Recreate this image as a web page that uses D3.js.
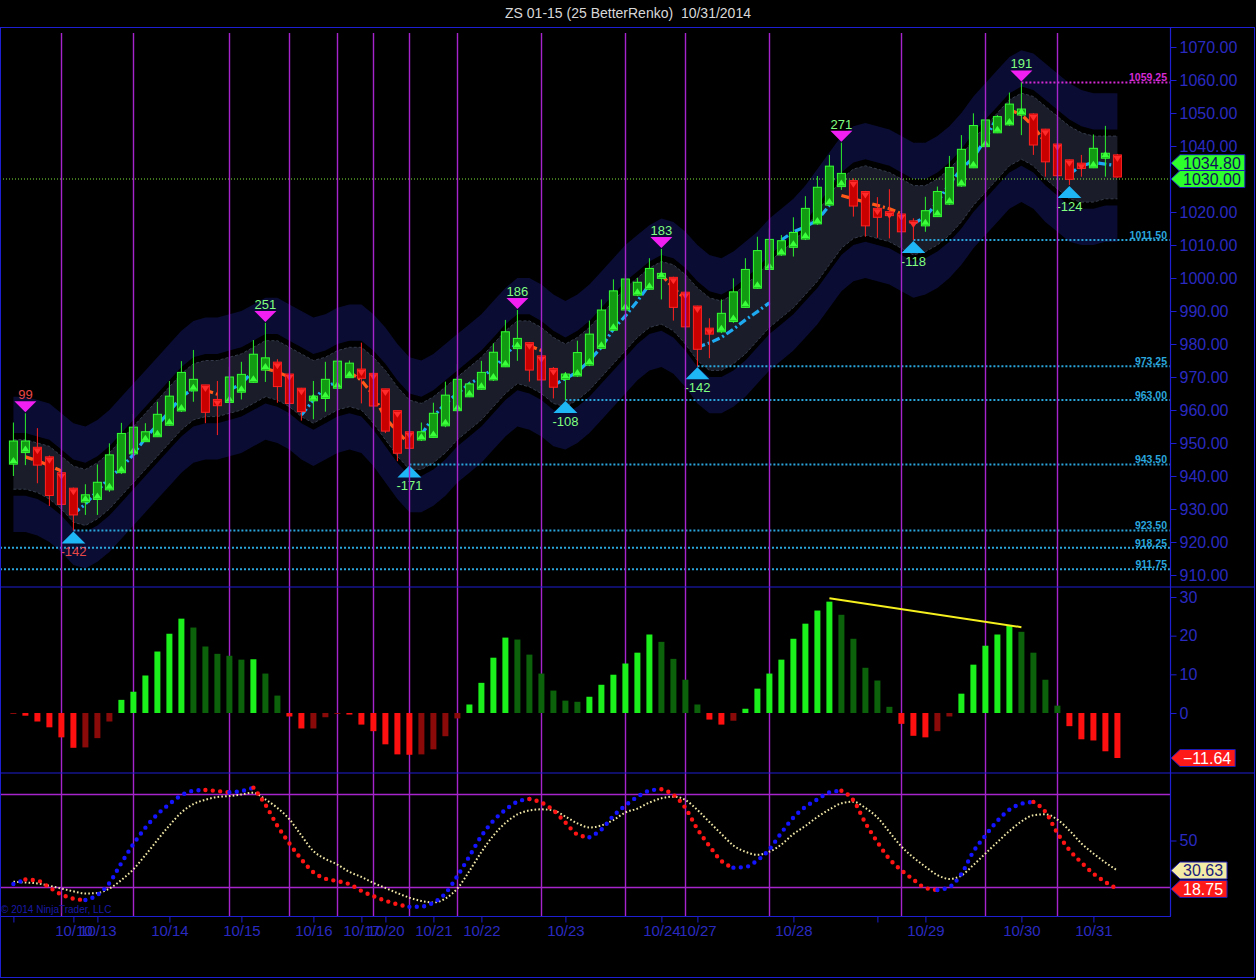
<!DOCTYPE html>
<html>
<head>
<meta charset="utf-8">
<script src="https://cdn.jsdelivr.net/npm/d3@7"></script>
<style>
  body { margin: 0; background: #000; }
  svg { display: block; }
</style>
</head>
<body>
<svg id="chart"></svg>
<script>
// ---- data ----
const barOpen = [
  943.6, 947.1, 948.7, 945.8, 941.0, 936.3, 932.1, 932.9, 935.8, 941.0,
  946.7, 950.4, 951.9, 955.4, 959.7, 965.8, 967.6, 963.2, 962.3, 965.4,
  968.4, 972.1, 974.5, 970.9, 966.6, 962.8, 963.5, 966.6, 969.8, 972.4,
  971.1, 966.4, 959.8, 953.4, 950.9, 951.7, 955.2, 959.8, 964.0, 966.3,
  969.1, 973.1, 978.6, 980.4, 976.4, 972.6, 969.3, 970.3, 973.6, 978.7,
  984.2, 990.3, 994.8, 996.6, 999.9, 1000.2, 995.7, 991.5, 984.8, 983.7,
  986.8, 991.1, 996.9, 1002.6, 1007.0, 1009.3, 1011.8, 1016.4, 1022.1, 1027.7,
  1029.5, 1026.2, 1021.1, 1020.1, 1019.4, 1017.3, 1015.8, 1018.6, 1022.4, 1027.9,
  1033.4, 1039.8, 1044.0, 1046.4, 1049.4, 1049.7, 1045.1, 1040.6, 1035.8, 1034.8,
  1033.4, 1036.3, 1037.3
];
const barHigh = [
  956.2, 959.0, 954.5, 946.2, 941.5, 936.5, 937.5, 943.5, 949.9, 956.1,
  958.8, 956.0, 962.5, 968.8, 974.8, 978.2, 967.6, 968.8, 973.1, 974.6,
  981.2, 986.4, 975.4, 970.9, 966.7, 968.8, 974.6, 975.6, 975.0, 980.4,
  971.5, 966.4, 959.8, 953.5, 956.2, 962.2, 968.6, 973.9, 968.5, 974.9,
  980.2, 987.3, 990.3, 980.6, 976.4, 973.0, 971.5, 981.0, 987.1, 993.5,
  999.6, 1001.2, 1000.0, 1006.0, 1008.8, 1000.4, 995.9, 991.6, 987.8, 993.5,
  999.9, 1006.0, 1012.5, 1015.1, 1013.0, 1018.4, 1024.8, 1030.9, 1037.3, 1041.0,
  1030.2, 1026.4, 1024.5, 1026.9, 1019.6, 1018.1, 1024.6, 1027.7, 1037.0, 1043.3,
  1049.9, 1050.6, 1049.4, 1056.2, 1059.25, 1049.9, 1045.2, 1040.7, 1035.9, 1037.3,
  1043.5, 1046.1, 1037.6
];
const barLow = [
  940.0, 943.3, 937.8, 930.9, 931.0, 923.5, 928.2, 928.2, 935.2, 940.6,
  946.4, 950.3, 951.8, 955.2, 959.4, 962.5, 956.0, 952.4, 962.1, 963.2,
  968.2, 968.5, 962.2, 958.2, 956.8, 957.2, 959.5, 966.4, 969.7, 962.0,
  960.0, 953.0, 944.5, 943.5, 950.6, 951.5, 954.8, 959.4, 963.9, 966.1,
  968.8, 973.0, 974.9, 968.6, 967.3, 963.5, 963.0, 970.0, 973.3, 978.5,
  983.9, 990.0, 994.5, 996.4, 993.5, 987.1, 984.2, 973.25, 975.7, 983.3,
  986.4, 990.9, 996.7, 1002.4, 1006.7, 1006.5, 1011.5, 1016.1, 1021.8, 1026.7,
  1018.6, 1012.5, 1012.2, 1012.0, 1013.0, 1011.5, 1014.0, 1018.5, 1022.1, 1027.6,
  1033.3, 1039.7, 1043.9, 1046.1, 1043.3, 1037.3, 1030.7, 1030.3, 1028.2, 1030.7,
  1033.3, 1030.7, 1030.4
];
const barClose = [
  950.6, 950.6, 943.3, 934.1, 931.4, 928.2, 934.3, 938.1, 946.4, 952.9,
  954.8, 953.4, 958.7, 964.2, 971.4, 969.3, 959.3, 961.3, 970.0, 970.8,
  976.9, 975.8, 967.1, 962.0, 959.5, 964.2, 969.3, 974.8, 974.2, 969.6,
  961.2, 953.6, 946.9, 948.4, 953.4, 959.0, 964.5, 969.3, 967.9, 971.4,
  977.5, 983.7, 981.7, 972.1, 969.1, 966.9, 970.9, 977.4, 983.0, 990.3,
  996.1, 999.7, 998.7, 1002.9, 1001.4, 991.1, 985.2, 978.4, 983.0, 989.3,
  995.8, 1002.6, 1008.3, 1011.7, 1011.3, 1013.8, 1021.1, 1027.5, 1033.9, 1031.7,
  1021.8, 1015.8, 1018.4, 1018.9, 1014.0, 1016.7, 1020.4, 1026.2, 1033.5, 1039.0,
  1046.2, 1047.9, 1048.9, 1052.7, 1051.2, 1040.3, 1035.2, 1031.0, 1029.9, 1033.2,
  1039.3, 1037.8, 1030.6
];

// trend line (null = no line), direction 1 = up (blue), -1 = down (orange)
const trendVal = [
  944.8, 945.8, 944.6, 943.2, 941.5, 928.5, 931.5, 935.5, 939.5, 942.5,
  946.5, 951.5, 955.5, 959.5, 964.0, 966.5, 966.0, 964.8, 966.0, 968.0,
  971.8, 972.6, 971.5, 970.0, 958.5, 963.0, 967.0, 968.5, 971.5, 969.0,
  964.5, 957.5, 953.5, 949.5, 952.5, 958.0, 962.0, 965.0, 968.0, 970.0,
  972.5, 976.5, 980.5, 979.5, 978.0, 967.5, 969.5, 971.5, 975.0, 979.0,
  984.5, 988.5, 993.0, 998.0, 1001.0, 997.0, 993.5, 979.0, 980.3, 982.0,
  984.5, 987.3, 989.8, 992.5, 1011.5, 1014.0, 1015.5, 1017.5, 1022.0, 1025.0,
  1024.0, 1023.0, 1022.0, 1021.0, 1019.5, 1016.5, 1018.5, 1023.0, 1028.5, 1033.0,
  1036.5, 1042.0, 1049.0, 1051.0, 1049.5, 1046.0, 1041.0, null, 1031.5, 1034.0,
  1035.0, 1034.5, 1034.0
];
const trendDir = [
  1, -1, -1, -1, -1, 1, 1, 1, 1, 1,
  1, 1, 1, 1, 1, 1, -1, -1, 1, 1,
  1, -1, -1, -1, 1, 1, 1, 1, -1, -1,
  -1, -1, -1, -1, 1, 1, 1, 1, 1, 1,
  1, 1, 1, -1, -1, 1, 1, 1, 1, 1,
  1, 1, 1, 1, -1, -1, -1, 1, 1, 1,
  1, 1, 1, 1, 1, 1, 1, 1, 1, -1,
  -1, -1, -1, -1, -1, 1, 1, 1, 1, 1,
  1, 1, 1, -1, -1, -1, -1, 0, 1, 1,
  1, 1, 1
];

// channel (inner band edges)
const bandHi = [
  951, 951, 950, 949, 946, 943, 942, 944, 947, 951,
  955, 959, 963, 967, 971, 974, 975, 975, 976, 977,
  979, 981, 981, 979, 977, 975, 976, 978, 979, 979,
  976, 972, 967, 963, 962, 964, 967, 970, 973, 976,
  980, 984, 987, 987, 985, 982, 980, 982, 985, 989,
  993, 997, 1000, 1003, 1005, 1004, 1001, 997, 994, 993,
  995, 998, 1001, 1005, 1008, 1011, 1015, 1020, 1025, 1030,
  1033, 1034, 1033, 1032, 1030, 1028, 1028, 1030, 1033, 1037,
  1042, 1046, 1050, 1054, 1056, 1055, 1052, 1049, 1046, 1044,
  1043, 1043, 1043
];
const bandLo = [
  936, 936, 935, 933, 930, 926, 925, 927, 930, 934,
  938, 942, 946, 950, 954, 957, 958, 958, 959, 960,
  962, 964, 963, 961, 958, 956, 958, 960, 961, 960,
  956, 951, 946, 942, 942, 944, 947, 951, 954, 957,
  961, 965, 968, 967, 965, 962, 961, 963, 966, 970,
  974, 978, 982, 985, 986, 984, 980, 975, 972, 972,
  974, 977, 981, 985, 988, 991, 995, 999, 1004, 1009,
  1012, 1013, 1012, 1011, 1009, 1007, 1008, 1010, 1013, 1017,
  1022, 1026, 1030, 1034, 1036, 1034, 1030, 1027, 1024, 1023,
  1023, 1024, 1024
];

const swingHighIdx = [1, 21, 42, 54, 69, 84];
const swingHighText = ["99", "251", "186", "183", "271", "191"];
const swingLowIdx = [5, 33, 46, 57, 75, 88];
const swingLowText = ["-142", "-171", "-108", "-142", "-118", "-124"];

const levelPrice = [1059.25, 1011.50, 973.25, 963.00, 943.50, 923.50, 918.25, 911.75];
const levelFrom = [84, 75, 57, 46, 33, 5, -1, -1];
const levelKind = ["high", "low", "low", "low", "low", "low", "low", "low"];

const refPrice = 1030.00;
const lastPrice = 1034.80;

const histVal = [
  -0.2, -0.7, -2.2, -3.7, -6.3, -9.0, -8.9, -6.5, -2.2, 3.4,
  5.5, 9.7, 15.9, 20.5, 24.4, 22.1, 17.2, 15.3, 14.8, 13.8,
  13.9, 10.2, 4.5, -0.9, -4.0, -4.0, -1.1, -0.1, -0.4, -3.0,
  -4.7, -8.1, -10.7, -10.8, -10.7, -9.4, -6.0, -1.4, 2.2, 7.8,
  14.3, 19.5, 19.0, 15.1, 10.2, 5.8, 3.2, 2.9, 4.2, 7.3,
  9.9, 12.8, 15.6, 20.3, 18.4, 14.0, 8.6, 2.2, -1.7, -3.0,
  -2.0, 1.1, 6.3, 10.2, 13.8, 19.2, 23.1, 26.5, 28.8, 25.4,
  19.2, 11.7, 8.4, 1.6, -2.8, -5.9, -6.3, -4.7, -0.9, 5.0,
  12.5, 17.4, 20.3, 22.6, 21.0, 15.6, 8.6, 1.9, -3.4, -6.8,
  -7.1, -9.9, -11.64
];
const divIdx = [68, 84];
const divVal = [29.7, 22.2];

const stochK = [
  21.9, 24.8, 24.2, 19.7, 15.2, 12.5, 11.6, 14.8, 22.6, 35.5,
  47.7, 58.3, 66.9, 73.5, 79.2, 82.1, 82.6, 81.9, 81.1, 81.9,
  84.1, 73.1, 59.5, 48.1, 37.9, 29.5, 25.4, 23.8, 21.8, 17.5,
  14.1, 11.2, 8.8, 7.2, 7.4, 9.9, 15.9, 27.1, 39.8, 52.9,
  62.8, 69.8, 75.0, 76.8, 74.5, 69.5, 61.6, 53.9, 52.1, 57.1,
  65.9, 72.6, 78.2, 82.1, 83.1, 79.5, 71.0, 57.4, 46.5, 36.8,
  32.5, 32.9, 37.2, 44.3, 55.0, 64.8, 71.7, 76.5, 81.0, 82.1,
  75.9, 61.3, 49.0, 38.1, 30.8, 24.8, 19.4, 18.1, 20.0, 28.4,
  42.9, 53.2, 62.7, 69.9, 73.7, 74.9, 68.5, 54.8, 43.9, 35.8,
  28.7, 23.2, 18.75
];
const stochD = [
  23.4, 22.9, 22.3, 20.8, 19.0, 17.2, 15.8, 16.1, 19.0, 24.5,
  31.4, 40.6, 50.3, 59.7, 68.1, 73.5, 76.3, 78.1, 78.7, 79.7,
  80.8, 76.5, 71.0, 63.7, 53.2, 43.2, 38.1, 34.5, 29.7, 26.5,
  22.6, 19.4, 16.1, 13.1, 11.0, 10.0, 12.6, 19.0, 30.3, 42.6,
  53.2, 61.3, 66.8, 69.4, 70.1, 69.4, 65.5, 61.1, 58.4, 59.7,
  63.2, 68.1, 70.6, 74.5, 77.2, 78.3, 76.1, 69.7, 61.9, 54.2,
  46.8, 42.7, 40.8, 42.8, 47.4, 54.2, 59.4, 65.2, 70.0, 74.0,
  75.0, 71.0, 64.8, 55.5, 46.1, 39.0, 33.1, 27.7, 25.2, 27.4,
  34.2, 41.6, 49.0, 56.1, 62.3, 66.3, 66.9, 63.5, 56.5, 48.1,
  41.6, 35.8, 30.63
];
const stochLevels = [80, 20];

const sessionIdx = [4, 10, 18, 23, 27, 30, 33, 37, 44, 51, 56, 63, 74, 81, 87];
const dateTickIdx = [0, 5, 7, 13, 19, 25, 29, 31, 35, 39, 46, 54, 57, 65, 72, 76, 84, 90];
const dateTickText = ["", "10/10", "10/13", "10/14", "10/15", "10/16", "10/17", "10/20", "10/21",
  "10/22", "10/23", "10/24", "10/27", "10/28", "", "10/29", "10/30", "10/31"];

// tick labels (1030.00 and -10 sit under the value flags and are not shown)
const priceTicks = [910, 920, 930, 940, 950, 960, 970, 980, 990, 1000, 1010, 1020, 1040, 1050, 1060, 1070];
const histTicks = [0, 10, 20, 30];
const stochTicks = [50];

// ---- layout ----
const W = 1256, H = 980;
const font = "'Liberation Sans', Arial, sans-serif";
const axisBlue = "#1e1ed2";
const textBlue = "#2a2ac0";
const sessionColor = "#a624cc";
const n = barOpen.length;
const idx = d3.range(n);

const svg = d3.select("#chart")
    .attr("width", W)
    .attr("height", H)
    .style("background", "#000");

const x = d3.scaleLinear().domain([0, n - 1]).range([13.4, 1117.4]);
const yP = d3.scaleLinear().domain([910, 1070]).range([575, 47]);
const yH = d3.scaleLinear().domain([0, 30]).range([713, 597]);
const yS = d3.scaleLinear().domain([20, 80]).range([887, 794]);

const defs = svg.append("defs");
defs.append("clipPath").attr("id", "clipP").append("rect")
    .attr("x", 1).attr("y", 28).attr("width", 1169).attr("height", 558);
defs.append("clipPath").attr("id", "clipH").append("rect")
    .attr("x", 1).attr("y", 588).attr("width", 1169).attr("height", 184);
defs.append("clipPath").attr("id", "clipS").append("rect")
    .attr("x", 1).attr("y", 774).attr("width", 1169).attr("height", 141);

// title
svg.append("text")
    .attr("x", 628).attr("y", 18)
    .attr("text-anchor", "middle")
    .style("white-space", "pre")
    .attr("fill", "#d8d8d8")
    .attr("font-family", font)
    .attr("font-size", 14)
    .text("ZS 01-15 (25 BetterRenko)  10/31/2014");

// ---- price pane ----
const price = svg.append("g").attr("clip-path", "url(#clipP)");

price.append("path")
    .attr("d", d3.area().x(i => x(i)).y0(i => yP(bandHi[i] + 2)).y1(i => yP(bandHi[i] + 13))(idx))
    .attr("fill", "#0a0c33");
price.append("path")
    .attr("d", d3.area().x(i => x(i)).y0(i => yP(bandLo[i] - 2)).y1(i => yP(bandLo[i] - 13))(idx))
    .attr("fill", "#0a0c33");
price.append("path")
    .attr("d", d3.area().x(i => x(i)).y0(i => yP(bandHi[i])).y1(i => yP(bandLo[i]))(idx))
    .attr("fill", "#1a1d29");
[bandHi, bandLo].forEach(arr => {
    price.append("path")
        .attr("d", d3.line().x(i => x(i)).y(i => yP(arr[i]))(idx))
        .attr("fill", "none")
        .attr("stroke", "#343a4a")
        .attr("stroke-dasharray", "3 2");
});

// support / resistance levels
levelPrice.forEach((p, k) => {
    const col = levelKind[k] === "high" ? "#d42ad4" : "#2aa6dc";
    const x0 = levelFrom[k] < 0 ? 0 : x(levelFrom[k]);
    price.append("line")
        .attr("x1", x0).attr("x2", 1170)
        .attr("y1", yP(p)).attr("y2", yP(p))
        .attr("stroke", col).attr("stroke-width", 2)
        .attr("stroke-dasharray", "2 2");
});
price.append("line")
    .attr("x1", 0).attr("x2", 1170)
    .attr("y1", yP(refPrice)).attr("y2", yP(refPrice))
    .attr("stroke", "#7fe83a").attr("stroke-dasharray", "1 2");

// session separators (all panes)
sessionIdx.forEach(i => {
    const sx = Math.round(x(i)) + 0.5;
    svg.append("line")
        .attr("x1", sx).attr("x2", sx)
        .attr("y1", 33).attr("y2", 916)
        .attr("stroke", sessionColor).attr("stroke-width", 1.4);
});

// trend line in runs of same direction
let runs = [], cur = null;
for (let i = 1; i < n; i++) {
    const ok = trendVal[i - 1] != null && trendVal[i] != null &&
        trendDir[i - 1] === trendDir[i] && Math.abs(trendVal[i] - trendVal[i - 1]) < 8;
    if (!ok) { cur = null; continue; }
    if (!cur) { cur = { dir: trendDir[i], pts: [i - 1] }; runs.push(cur); }
    cur.pts.push(i);
}
const trendLine = d3.line().x(i => x(i)).y(i => yP(trendVal[i]));
runs.forEach(r => {
    price.append("path")
        .attr("d", trendLine(r.pts))
        .attr("fill", "none")
        .attr("stroke", r.dir > 0 ? "#1eaaf2" : "#ff5a1a")
        .attr("stroke-width", 3.2)
        .attr("stroke-dasharray", "8 3 2 3");
});

// candles
const candles = price.selectAll("g.candle").data(idx).join("g").attr("class", "candle");
candles.append("line")
    .attr("x1", i => x(i)).attr("x2", i => x(i))
    .attr("y1", i => yP(barHigh[i])).attr("y2", i => yP(barLow[i]))
    .attr("stroke", i => barClose[i] >= barOpen[i] ? "#2cf02c" : "#ff2020");
candles.append("rect")
    .attr("x", i => x(i) - 4)
    .attr("width", 8)
    .attr("y", i => yP(Math.max(barOpen[i], barClose[i])))
    .attr("height", i => Math.max(1, Math.abs(yP(barOpen[i]) - yP(barClose[i]))))
    .attr("fill", i => barClose[i] >= barOpen[i] ? "#139a13" : "#c80000")
    .attr("stroke", i => barClose[i] >= barOpen[i] ? "#33ff33" : "#ff2222");
// direction markers at the open
candles.append("path")
    .attr("d", i => {
        const cx = x(i), cy = yP(barOpen[i]);
        return barClose[i] >= barOpen[i]
            ? `M${cx - 4},${cy - 1}L${cx + 4},${cy - 1}L${cx},${cy - 7}Z`
            : `M${cx - 4},${cy + 1}L${cx + 4},${cy + 1}L${cx},${cy + 7}Z`;
    })
    .attr("fill", i => barClose[i] >= barOpen[i] ? "#3cff3c" : "#ff2a2a");

// swing highs / lows
swingHighIdx.forEach((i, k) => {
    const cx = x(i), tip = yP(barHigh[i]) - 1;
    price.append("path")
        .attr("d", `M${cx - 11},${tip - 11}L${cx + 11},${tip - 11}L${cx},${tip}Z`)
        .attr("fill", "#f21ff2");
    price.append("text")
        .attr("x", cx).attr("y", tip - 13)
        .attr("text-anchor", "middle")
        .attr("fill", k === 0 ? "#e84848" : "#80ff80")
        .attr("font-family", font).attr("font-size", 13)
        .text(swingHighText[k]);
});
swingLowIdx.forEach((i, k) => {
    const cx = x(i), tip = yP(barLow[i]) + 1;
    price.append("path")
        .attr("d", `M${cx},${tip}L${cx + 12},${tip + 12}L${cx - 12},${tip + 12}Z`)
        .attr("fill", "#1eb6f5");
    price.append("text")
        .attr("x", cx).attr("y", tip + 25)
        .attr("text-anchor", "middle")
        .attr("fill", k === 0 ? "#e84848" : "#80ff80")
        .attr("font-family", font).attr("font-size", 13)
        .text(swingLowText[k]);
});

levelPrice.forEach((p, k) => {
    price.append("text")
        .attr("x", 1167).attr("y", yP(p) - 1)
        .attr("text-anchor", "end")
        .attr("fill", levelKind[k] === "high" ? "#d42ad4" : "#2aa6dc")
        .attr("font-family", font).attr("font-size", 10.5).attr("font-weight", "bold")
        .text(d3.format(".2f")(p));
});

// ---- histogram pane ----
const hist = svg.append("g").attr("clip-path", "url(#clipH)");
function histColor(i) {
    const v = histVal[i], prev = i ? histVal[i - 1] : v;
    if (v >= 0) return v > prev ? "#1cf01c" : "#0b620b";
    return v < prev ? "#ff1010" : "#8a0a0a";
}
hist.selectAll("rect").data(idx).join("rect")
    .attr("x", i => x(i) - 3)
    .attr("width", 6)
    .attr("y", i => Math.min(yH(histVal[i]), yH(0)))
    .attr("height", i => Math.max(1, Math.abs(yH(histVal[i]) - yH(0))))
    .attr("fill", histColor);
hist.append("line")
    .attr("x1", x(divIdx[0])).attr("y1", yH(divVal[0]))
    .attr("x2", x(divIdx[1])).attr("y2", yH(divVal[1]))
    .attr("stroke", "#f5f01e").attr("stroke-width", 2);

// ---- stochastic pane ----
const stoch = svg.append("g").attr("clip-path", "url(#clipS)");
stochLevels.forEach(v => {
    stoch.append("line")
        .attr("x1", 0).attr("x2", 1170)
        .attr("y1", Math.round(yS(v)) + 0.5).attr("y2", Math.round(yS(v)) + 0.5)
        .attr("stroke", sessionColor).attr("stroke-width", 1.4);
});
stoch.append("path")
    .attr("d", d3.line().x(i => x(i)).y(i => yS(stochD[i])).curve(d3.curveMonotoneX)(idx))
    .attr("fill", "none")
    .attr("stroke", "#f0e6a6")
    .attr("stroke-width", 2)
    .attr("stroke-dasharray", "1.6 2.2");
let kRuns = [], kr = null;
for (let i = 1; i < n; i++) {
    const up = stochK[i] >= stochK[i - 1];
    if (!kr || kr.up !== up) { kr = { up, pts: [i - 1] }; kRuns.push(kr); }
    kr.pts.push(i);
}
const kLine = d3.line().x(i => x(i)).y(i => yS(stochK[i])).curve(d3.curveMonotoneX);
kRuns.forEach(r => {
    stoch.append("path")
        .attr("d", kLine(r.pts))
        .attr("fill", "none")
        .attr("stroke", r.up ? "#1414ff" : "#ff1414")
        .attr("stroke-width", 4.4)
        .attr("stroke-linecap", "round")
        .attr("stroke-dasharray", "0 7.4");
});
svg.append("text")
    .attr("x", 1).attr("y", 913)
    .attr("fill", "#1a1aa8")
    .attr("font-family", font).attr("font-size", 10)
    .text("\u00a9 2014 NinjaTrader, LLC");

// ---- frame and axes ----
svg.append("rect")
    .attr("x", 0.5).attr("y", 27.5).attr("width", 1254).attr("height", 950)
    .attr("fill", "none").attr("stroke", axisBlue);
[587, 773].forEach(yy => {
    svg.append("line").attr("x1", 0).attr("x2", 1255).attr("y1", yy).attr("y2", yy)
        .attr("stroke", axisBlue).attr("stroke-width", 1.2);
});
svg.append("line").attr("x1", 1170.5).attr("x2", 1170.5).attr("y1", 27).attr("y2", 916)
    .attr("stroke", axisBlue).attr("stroke-width", 1.2);
svg.append("line").attr("x1", 0).attr("x2", 1171).attr("y1", 916.5).attr("y2", 916.5)
    .attr("stroke", axisBlue).attr("stroke-width", 1.2);

function styleAxis(g, size) {
    g.select(".domain").remove();
    g.attr("font-family", font).attr("font-size", size);
    g.selectAll(".tick line").attr("stroke", axisBlue);
    g.selectAll(".tick text").attr("fill", textBlue);
}
svg.append("g").attr("transform", "translate(1170.5,0)")
    .call(d3.axisRight(yP).tickValues(priceTicks).tickFormat(d3.format(".2f")).tickSize(6))
    .call(g => styleAxis(g, 16));
svg.append("g").attr("transform", "translate(1170.5,0)")
    .call(d3.axisRight(yH).tickValues(histTicks).tickFormat(d3.format("d")).tickSize(6))
    .call(g => styleAxis(g, 16));
svg.append("g").attr("transform", "translate(1170.5,0)")
    .call(d3.axisRight(yS).tickValues(stochTicks).tickFormat(d3.format("d")).tickSize(6))
    .call(g => styleAxis(g, 16));
svg.append("g").attr("transform", "translate(0,916.5)")
    .call(d3.axisBottom(x).tickValues(dateTickIdx)
        .tickFormat((d, k) => dateTickText[k]).tickSize(6))
    .call(g => styleAxis(g, 15));

// value flags on the right axis
function valueFlag(yPos, txt, fill, color) {
    const g = svg.append("g");
    const t = g.append("text")
        .attr("x", 1183).attr("y", yPos).attr("dy", "0.36em")
        .attr("fill", color)
        .attr("font-family", font).attr("font-size", 16)
        .text(txt);
    const w = t.node().getComputedTextLength() + 7;
    g.insert("path", "text")
        .attr("d", `M1171,${yPos}L1180,${yPos - 8.5}L${1180 + w},${yPos - 8.5}L${1180 + w},${yPos + 8.5}L1180,${yPos + 8.5}Z`)
        .attr("fill", fill)
        .attr("stroke", "#1c1cb4");
}
valueFlag(yP(lastPrice), d3.format(".2f")(lastPrice), "#2cff2c", "#10105a");
valueFlag(yP(refPrice), d3.format(".2f")(refPrice), "#2cff2c", "#10105a");
valueFlag(yH(histVal[n - 1]), d3.format(".2f")(histVal[n - 1]), "#ff1a1a", "#ffffff");
valueFlag(yS(stochD[n - 1]), d3.format(".2f")(stochD[n - 1]), "#f2eca6", "#1c1c7a");
valueFlag(yS(stochK[n - 1]), d3.format(".2f")(stochK[n - 1]), "#ff1a1a", "#ffffff");
</script>
</body>
</html>
